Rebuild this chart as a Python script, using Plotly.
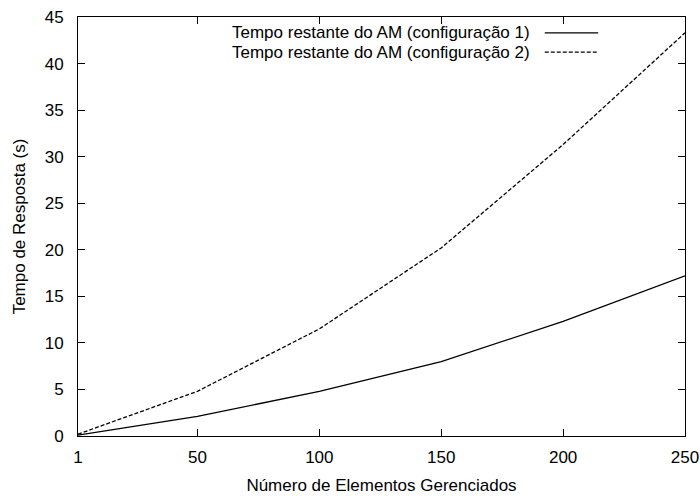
import plotly.graph_objects as go

# Data
elements = [1, 50, 100, 150, 200, 250]
config1 = [0.1, 2.1, 4.8, 8.0, 12.3, 17.2]
config2 = [0.2, 4.8, 11.5, 20.2, 31.3, 43.3]
names = ["Tempo restante do AM (configuração 1)", "Tempo restante do AM (configuração 2)"]
x_ticks = [1, 50, 100, 150, 200, 250]
y_ticks = [0, 5, 10, 15, 20, 25, 30, 35, 40, 45]

FONT = "Liberation Sans, Arial, Helvetica, sans-serif"
FS = 17

fig = go.Figure()
fig.add_trace(go.Scatter(x=elements, y=config1, mode="lines", name=names[0],
                         line=dict(color="black", width=1.3), showlegend=False))
fig.add_trace(go.Scatter(x=elements, y=config2, mode="lines", name=names[1],
                         line=dict(color="black", width=1.3, dash="4px,2px"), showlegend=False))

axis_common = dict(showline=True, linecolor="black", linewidth=1, mirror="ticks",
                   ticks="inside", ticklen=7, tickcolor="black", tickwidth=1,
                   showgrid=False, zeroline=False,
                   tickfont=dict(family=FONT, size=FS, color="black"))

fig.update_xaxes(range=[1, 250], tickvals=x_ticks, ticktext=[str(v) for v in x_ticks],
                 title=dict(text="Número de Elementos Gerenciados",
                            font=dict(family=FONT, size=FS, color="black"), standoff=12),
                 ticklabelstandoff=6, **axis_common)
fig.update_yaxes(range=[0, 45], tickvals=y_ticks, ticktext=[str(v) for v in y_ticks],
                 title=dict(text="Tempo de Resposta (s)",
                            font=dict(family=FONT, size=FS, color="black"), standoff=14),
                 ticklabelstandoff=10, **axis_common)

# gnuplot-style key: text right-aligned, sample line to the right
rows_y = [0.962, 0.916]
dashes = ["solid", "4px,2px"]
for name, yy, dsh in zip(names, rows_y, dashes):
    fig.add_annotation(x=0.748, y=yy, xref="paper", yref="paper", text=name,
                       showarrow=False, xanchor="right", yanchor="middle",
                       font=dict(family=FONT, size=FS, color="black"))
    fig.add_shape(type="line", xref="paper", yref="paper", x0=0.769, x1=0.857,
                  y0=yy, y1=yy, line=dict(color="black", width=1.3, dash=dsh))

fig.update_layout(width=700, height=496, margin=dict(l=78, r=15, t=17, b=60, autoexpand=False),
                  paper_bgcolor="white", plot_bgcolor="white",
                  font=dict(family=FONT, size=FS, color="black"))

fig.write_html("out.html")
